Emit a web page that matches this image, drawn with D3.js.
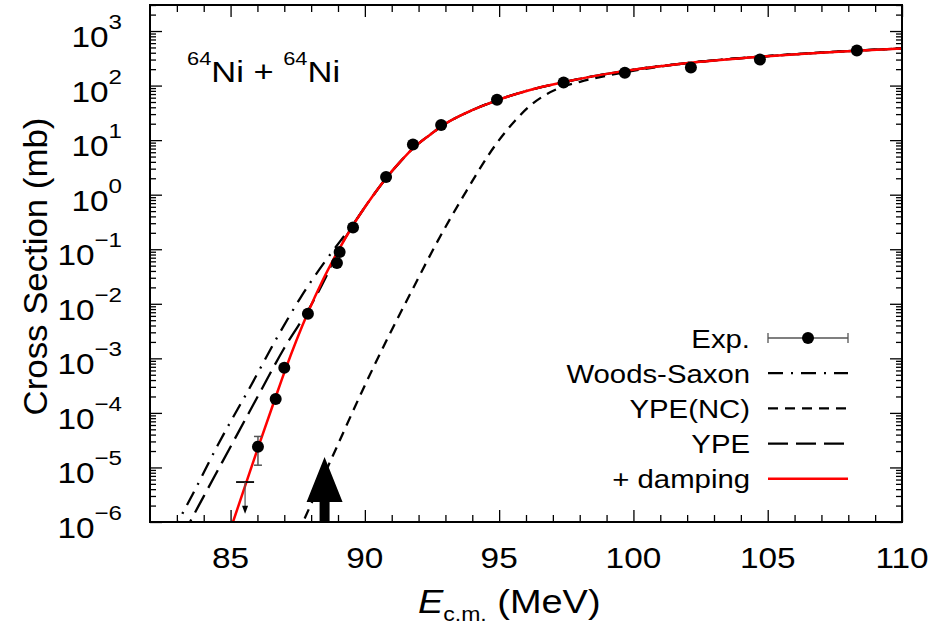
<!DOCTYPE html>
<html><head><meta charset="utf-8">
<script src="https://cdn.jsdelivr.net/npm/d3@7"></script>
<style>
body{margin:0;background:#fff}
text{font-family:"Liberation Sans",Arial,Helvetica,sans-serif;fill:#000}
</style>
</head><body>
<svg id="chart" width="941" height="628"></svg>
<script>
// ---------- data ----------
const expE     = [86.02, 86.68, 87.00, 87.88, 88.96, 89.06, 89.56, 90.79, 91.79, 92.84, 94.92, 97.40, 99.68, 102.14, 104.71, 108.32];
const expSigma = [2.4e-5, 1.8e-4, 6.7e-4, 6.6e-3, 0.056, 0.089, 0.25, 2.1, 8.3, 19, 55, 114, 172, 214, 300, 440];
const expErr   = [1.3e-5, 0, 0, 0, 0, 0, 0, 0, 0, 0, 0, 0, 0, 0, 0, 0];

const limitE     = [85.54];
const limitUpper = [5.4e-6];
const limitValue = [1.6e-6];

const wsE     = [82.8, 83.04, 83.60, 84.53, 85.24, 85.61, 86.73, 87.59, 88.52, 89.07, 89.56, 90.30, 90.79, 91.31, 91.79, 92.43, 92.87, 93.91, 94.92, 96.15, 97.38, 99.69, 102.14, 104.71, 108.32, 110.0];
const wsSigma = [6.0e-7, 1.0e-6, 3.3e-6, 2.6e-5, 1.12e-4, 2.34e-4, 2.4e-3, 0.0126, 0.060, 0.138, 0.288, 0.955, 2.0, 3.98, 7.08, 12.6, 18.2, 33.9, 53.7, 83.2, 115, 186, 263, 339, 437, 479];

const ypeE     = [83.2, 83.49, 84.0, 85.0, 86.0, 87.0, 88.0, 88.5, 88.96, 89.56, 90.30, 90.79, 91.31, 91.79, 92.43, 92.87, 93.91, 94.92, 96.15, 97.38, 99.69, 102.14, 104.71, 108.32, 110.0];
const ypeSigma = [5.2e-7, 1.0e-6, 2.95e-6, 2.4e-5, 1.95e-4, 1.55e-3, 9.5e-3, 0.0275, 0.0851, 0.275, 0.955, 2.0, 3.98, 7.08, 12.6, 18.2, 33.9, 53.7, 83.2, 115, 186, 263, 339, 437, 479];

const ncE     = [87.5, 87.70, 88.96, 89.89, 90.86, 91.79, 92.69, 93.65, 94.92, 95.6, 96.15, 96.8, 97.38, 98.01, 99.87, 102.14, 104.71, 108.32, 110.0];
const ncSigma = [6.0e-7, 1.0e-6, 2.4e-5, 2.45e-4, 2.4e-3, 0.019, 0.135, 0.91, 8.9, 22.9, 42.7, 70.8, 95.5, 117, 182, 263, 339, 437, 479];

const dampE     = [85.0, 85.09, 86.02, 86.65, 87.03, 87.88, 88.40, 88.96, 89.56, 90.30, 90.79, 91.31, 91.79, 92.43, 92.87, 93.91, 94.92, 96.15, 97.38, 99.69, 102.14, 104.71, 108.32, 110.0];
const dampSigma = [7.4e-7, 1.0e-6, 2.29e-5, 1.78e-4, 6.03e-4, 6.92e-3, 0.0251, 0.0851, 0.275, 0.955, 2.0, 3.98, 7.08, 12.6, 18.2, 33.9, 53.7, 83.2, 115, 186, 263, 339, 437, 479];

const arrowE = 88.5;
const arrowTip = 1.55e-5;

const xMajorTicks = [85, 90, 95, 100, 105, 110];
const yDecades = [-6, -5, -4, -3, -2, -1, 0, 1, 2, 3];
const legendLabels = ["Exp.", "Woods-Saxon", "YPE(NC)", "YPE", "+ damping"];
const xTitle = ["E", "c.m.", " (MeV)"];
const yTitle = "Cross Section (mb)";
const systemLabel = ["64", "Ni", " + ", "64", "Ni"];

// ---------- layout ----------
const L = 150, R = 902, T = 5, B = 522;
const SX = 1.15;
const svg = d3.select("#chart");
const x = d3.scaleLinear().domain([82, 110]).range([L, R]);
const y = d3.scaleLog().domain([1e-6, 3000]).range([B, T]);

svg.append("defs").append("clipPath").attr("id", "clip")
  .append("rect").attr("x", L).attr("y", T).attr("width", R - L).attr("height", B - T);

// ticks
const xMinor = d3.range(83, 110).filter(v => !xMajorTicks.includes(v));
const yMinor = [];
yDecades.forEach(d => { for (let m = 2; m <= 9; m++) { const v = m * Math.pow(10, d); if (v <= 3000) yMinor.push(v); } });
const yMajor = yDecades.map(d => Math.pow(10, d));

function axis(gen, scale, vals, size, tr) {
  const g = svg.append("g").attr("transform", tr)
    .call(gen(scale).tickValues(vals).tickSize(size).tickFormat(""));
  g.select(".domain").remove();
  g.selectAll("line").attr("stroke", "#000").attr("stroke-width", 1.3);
}
axis(d3.axisBottom, x, xMajorTicks, -12, `translate(0,${B})`);
axis(d3.axisBottom, x, xMinor, -7, `translate(0,${B})`);
axis(d3.axisTop, x, xMajorTicks, -12, `translate(0,${T})`);
axis(d3.axisTop, x, xMinor, -7, `translate(0,${T})`);
axis(d3.axisLeft, y, yMajor, -12, `translate(${L},0)`);
axis(d3.axisLeft, y, yMinor, -6, `translate(${L},0)`);
axis(d3.axisRight, y, yMajor, -12, `translate(${R},0)`);
axis(d3.axisRight, y, yMinor, -6, `translate(${R},0)`);

// text helper
function txt(px, py, size, anchor, sx) {
  return svg.append("text")
    .attr("transform", `translate(${px},${py}) scale(${sx || SX},1)`)
    .attr("font-size", size).attr("text-anchor", anchor);
}

// x tick labels
xMajorTicks.forEach(v => txt(x(v), 568, 29, "middle").text(v));
// y tick labels
yDecades.forEach(d => {
  const t = txt(122, y(Math.pow(10, d)) + 16, 29, "end");
  t.append("tspan").text("10");
  t.append("tspan").attr("font-size", 21).attr("dy", -18).text(d < 0 ? "\u2212" + (-d) : d);
});

// axis titles
const xt = txt(418, 613, 33, "start");
xt.append("tspan").attr("font-style", "italic").text(xTitle[0]);
xt.append("tspan").attr("font-size", 20).attr("dy", 8).text(xTitle[1]);
xt.append("tspan").attr("dy", -8).text(xTitle[2]);

svg.append("text")
  .attr("transform", `translate(47,${(T + B) / 2 + 3}) rotate(-90) scale(1.2,${SX})`)
  .attr("font-size", 29).attr("text-anchor", "middle").text(yTitle);

// system label
const sl = txt(187, 82, 30, "start");
sl.append("tspan").attr("font-size", 19).attr("dy", -17).text(systemLabel[0]);
sl.append("tspan").attr("dy", 17).text(systemLabel[1]);
sl.append("tspan").text(systemLabel[2]);
sl.append("tspan").attr("font-size", 19).attr("dy", -17).text(systemLabel[3]);
sl.append("tspan").attr("dy", 17).text(systemLabel[4]);

// curves
const plot = svg.append("g").attr("clip-path", "url(#clip)");
const line = d3.line().x(d => x(d[0])).y(d => y(d[1])).curve(d3.curveMonotoneX);
const curves = [
  {e: wsE, s: wsSigma, color: "#000", dash: "15,8,2,8", w: 2.3},
  {e: ncE, s: ncSigma, color: "#000", dash: "10,7", w: 2.3},
  {e: ypeE, s: ypeSigma, color: "#000", dash: "20,8", w: 2.3},
  {e: dampE, s: dampSigma, color: "#ff0000", dash: null, w: 2.5}
];
curves.forEach(c => {
  plot.append("path").datum(c.e.map((v, i) => [v, c.s[i]]))
    .attr("d", line).attr("fill", "none").attr("stroke", c.color)
    .attr("stroke-width", c.w).attr("stroke-dasharray", c.dash);
});

// experimental points
const errColor = "#555";
expE.forEach((e, i) => {
  if (expErr[i] > 0) {
    const lo = expSigma[i] - expErr[i], hi = expSigma[i] + expErr[i];
    const cx = x(e);
    plot.append("line").attr("x1", cx).attr("x2", cx).attr("y1", y(hi)).attr("y2", y(lo)).attr("stroke", errColor).attr("stroke-width", 1.5);
    [hi, lo].forEach(v => plot.append("line").attr("x1", cx - 4).attr("x2", cx + 4).attr("y1", y(v)).attr("y2", y(v)).attr("stroke", errColor).attr("stroke-width", 1.5));
  }
});
plot.selectAll("circle.exp").data(expE).join("circle")
  .attr("cx", d => x(d)).attr("cy", (d, i) => y(expSigma[i])).attr("r", 6).attr("fill", "#000");

// upper limit point
limitE.forEach((e, i) => {
  const cx = x(e), cy = y(limitUpper[i]), vy = y(limitValue[i]);
  plot.append("line").attr("x1", cx - 9).attr("x2", cx + 9).attr("y1", cy).attr("y2", cy).attr("stroke", "#000").attr("stroke-width", 1.8);
  plot.append("line").attr("x1", cx).attr("x2", cx).attr("y1", cy).attr("y2", vy).attr("stroke", errColor).attr("stroke-width", 1.2);
  plot.append("path").attr("d", `M${cx - 3},${vy - 5} L${cx + 3},${vy - 5} L${cx},${vy + 3} Z`).attr("fill", "#000");
});

// big arrow
{
  const ax = x(arrowE), ty = y(arrowTip);
  plot.append("path")
    .attr("d", `M${ax},${ty} L${ax + 18},${ty + 45} L${ax + 5},${ty + 45} L${ax + 5},${B} L${ax - 5},${B} L${ax - 5},${ty + 45} L${ax - 18},${ty + 45} Z`)
    .attr("fill", "#000");
}

// legend
const lgX1 = 768, lgX2 = 848, lgTextX = 750;
legendLabels.forEach((lab, i) => {
  const base = 347.5 + i * 35.2;
  txt(lgTextX, base, 25.5, "end").text(lab);
  const ly = base - 9.5;
  if (i === 0) {
    svg.append("line").attr("x1", lgX1).attr("x2", lgX2).attr("y1", ly).attr("y2", ly).attr("stroke", errColor).attr("stroke-width", 1.3);
    [lgX1, lgX2].forEach(xx => svg.append("line").attr("x1", xx).attr("x2", xx).attr("y1", ly - 5).attr("y2", ly + 5).attr("stroke", errColor).attr("stroke-width", 1.3));
    svg.append("circle").attr("cx", (lgX1 + lgX2) / 2).attr("cy", ly).attr("r", 6).attr("fill", "#000");
  } else {
    const c = curves[i - 1];
    svg.append("line").attr("x1", lgX1).attr("x2", lgX2).attr("y1", ly).attr("y2", ly)
      .attr("stroke", c.color).attr("stroke-width", c.w).attr("stroke-dasharray", c.dash);
  }
});

// frame
svg.append("rect").attr("x", L).attr("y", T).attr("width", R - L).attr("height", B - T)
  .attr("fill", "none").attr("stroke", "#000").attr("stroke-width", 2);
</script>
</body></html>
